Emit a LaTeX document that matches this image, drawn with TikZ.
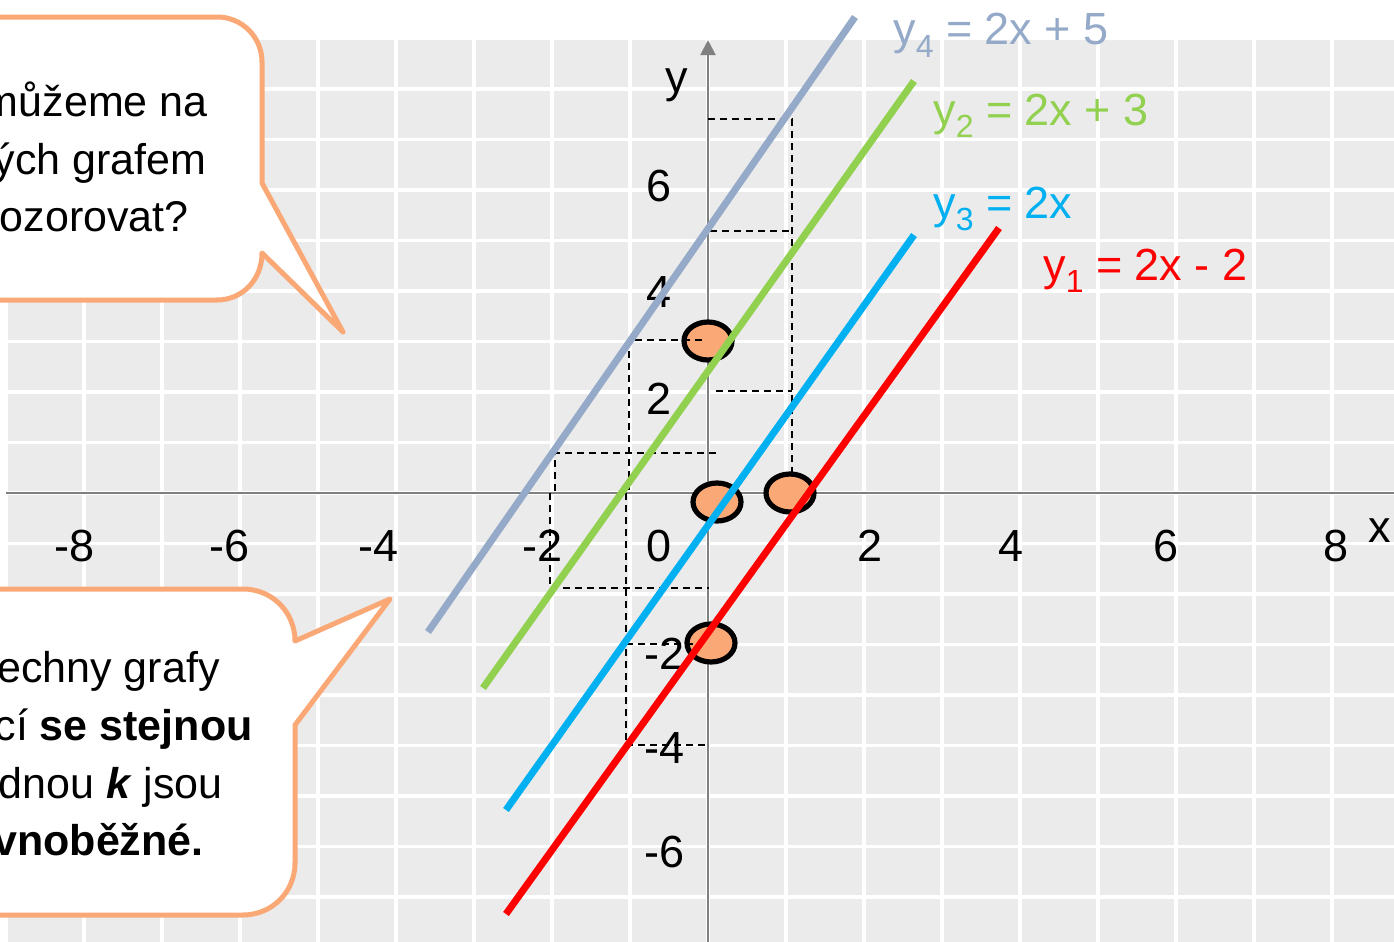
\documentclass[tikz,border=0pt]{standalone}
\usepackage{fontspec}
\setmainfont{Liberation Sans}
\usetikzlibrary{arrows.meta,shapes.geometric}
\definecolor{gridbg}{HTML}{EBEBEB}
\definecolor{axisgray}{HTML}{808080}
\definecolor{lineone}{HTML}{FF0000}
\definecolor{linetwo}{HTML}{92D050}
\definecolor{linethree}{HTML}{00B0F0}
\definecolor{linefour}{HTML}{94AAC8}
\definecolor{peach}{HTML}{F9A876}
\newcommand{\idx}[1]{\raisebox{-6pt}{\fontsize{16}{16}\selectfont #1}}
\begin{document}
\begin{tikzpicture}[x=0.5pt,y=-0.5pt,
  graph/.style={line width=3.5pt},
  guide/.style={black,line width=1.1pt,dash pattern=on 3.5pt off 2.5pt},
  dot/.style={ellipse,draw=black,fill=peach,line width=2.6pt,
    minimum width=24pt,minimum height=19pt,inner sep=0pt},
  bubble/.style={draw=peach,fill=white,line width=2.5pt,line join=round},
  tick/.style={font=\fontsize{22.5}{27}\selectfont,inner sep=0pt},
  eqn/.style={font=\fontsize{22.5}{27}\selectfont,inner sep=0pt,anchor=base west},
  say/.style={font=\fontsize{21.5}{25}\selectfont,inner sep=0pt,anchor=base east}]
  \useasboundingbox (0,0) rectangle (1394,942);
  % background and grid
  \fill[white] (0,0) rectangle (1394,942);
  \fill[gridbg] (6,40) rectangle (1394,942);
  \foreach \k in {-9,...,8}
    \draw[white,line width=1.8pt] ({708+78*\k},40) -- ({708+78*\k},942);
  \foreach \k in {-8,...,9}
    \draw[white,line width=1.8pt] (6,{493-50.5*\k}) -- (1394,{493-50.5*\k});
  % axes
  \draw[axisgray,line width=1pt] (6,493) -- (1394,493);
  \draw[axisgray,line width=1pt,-{Triangle[length=7.5pt,width=7.5pt]}]
    (708,942) -- (708,40);
  \node[tick,anchor=base] (xlab) at (1380,542) {x};
  \node[tick,anchor=base] (ylab) at (677,92) {y};
  \foreach \t/\px [count=\i] in {-8/75,-6/230,-4/379,-2/543,0/659,2/870,4/1011,6/1166,8/1336}
    \node[tick] (xt\i) at (\px,546) {\t};
  \foreach \t/\px/\py [count=\i] in {6/659/186,4/659/292,2/659/399,-2/665/654,-4/665/748,-6/665/852}
    \node[tick] (yt\i) at (\px,\py) {\t};
  % intercepts
  \node[dot] (c1) at (708,341) {};
  \node[dot] (c2) at (717,502) {};
  \node[dot] (c3) at (790,493) {};
  \node[dot] (c4) at (711,643) {};
  % helper lines
  \draw[guide] (708,119) -- (792,119) -- (792,474);
  \draw[guide] (710,231) -- (792,231);
  \draw[guide] (716,391) -- (792,391);
  \draw[guide] (702,340) -- (629,340) -- (629,493);
  \draw[guide] (626,493) -- (626,745) -- (705,745);
  \draw[guide] (626,644) -- (703,644);
  \draw[guide] (716,453) -- (555,453) -- (555,493);
  \draw[guide] (550,493) -- (550,588) -- (709,588);
  % the four graphs
  \draw[graph,linefour] (428,632) -- (855,17);
  \draw[graph,linetwo] (483,688) -- (914,81);
  \draw[graph,linethree] (506,810) -- (914,235);
  \draw[graph,lineone] (506,914) -- (999,228);
  \node[eqn,linefour] (eq4) at (893,45) {y\idx{4} = 2x + 5};
  \node[eqn,linetwo] (eq2) at (933,125) {y\idx{2} = 2x + 3};
  \node[eqn,linethree] (eq3) at (933,218) {y\idx{3} = 2x};
  \node[eqn,lineone] (eq1) at (1043,280) {y\idx{1} = 2x - 2};
  % callouts
  \draw[bubble] (-10,17) -- (217,17) .. controls (242,17) and (262,37) .. (262,62)
    -- (262,183) -- (343,332) -- (262,253)
    .. controls (262,280) and (242,300) .. (217,300) -- (-10,300) -- cycle;
  \node[say] (q1) at (208,116) {můžeme na};
  \node[say] (q2) at (207,174) {ých grafem};
  \node[say] (q3) at (189,231) {ozorovat?};
  \draw[bubble] (-10,589) -- (243,589) .. controls (272,589) and (295,612) .. (295,641)
    -- (390,599) -- (295,725) -- (295,863)
    .. controls (295,892) and (272,915) .. (243,915) -- (-10,915) -- cycle;
  \node[say] (a1) at (220,682) {echny grafy};
  \node[say] (a2) at (253,740) {cí \textbf{se stejnou}};
  \node[say] (a3) at (223,798) {dnou \textbf{\textit{k}} jsou};
  \node[say] (a4) at (204,855) {\textbf{vnoběžné.}};
\end{tikzpicture}
\end{document}
